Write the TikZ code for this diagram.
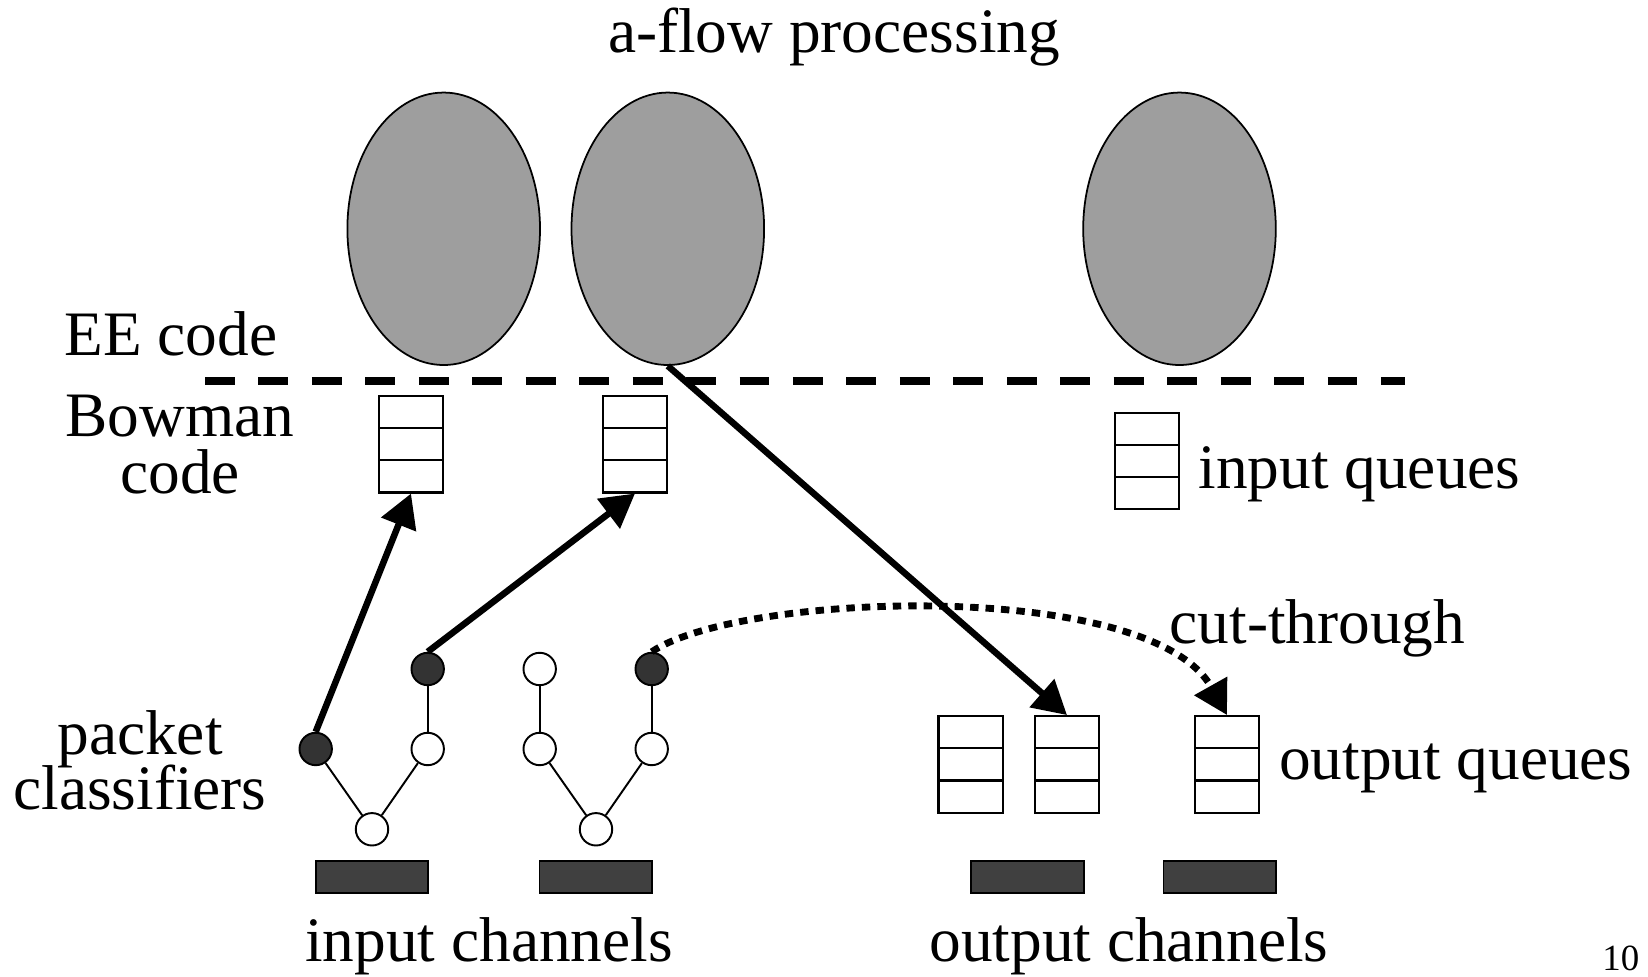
\documentclass[tikz,border=0pt]{standalone}
\usepackage{fontspec}
\setmainfont{Liberation Serif}
\usetikzlibrary{shapes.geometric,arrows.meta}

\definecolor{procgray}{RGB}{158,158,158}
\definecolor{darkdot}{RGB}{51,51,51}
\definecolor{chanfill}{RGB}{64,64,64}

\begin{document}
\begin{tikzpicture}[x=0.01cm,y=-0.01cm,
  lbl/.style={font=\fontsize{18pt}{16pt}\selectfont, inner sep=0pt},
  pagenum/.style={font=\fontsize{10.5pt}{12pt}\selectfont, inner sep=0pt},
  proc/.style={ellipse, draw, line width=0.5pt, fill=procgray,
    minimum width=1.925cm, minimum height=2.723cm, inner sep=0pt},
  queue/.style={draw, line width=0.6pt, fill=white,
    minimum width=0.646cm, minimum height=0.965cm, inner sep=0pt,
    path picture={
      \draw[line width=0.6pt]
        ([yshift=-0.3217cm]path picture bounding box.north west) --
        ([yshift=-0.3217cm]path picture bounding box.north east)
        ([yshift=0.3217cm]path picture bounding box.south west) --
        ([yshift=0.3217cm]path picture bounding box.south east);
    }},
  cls/.style={circle, draw, line width=0.55pt, fill=white,
    minimum size=0.324cm, inner sep=0pt},
  hit/.style={cls, fill=darkdot},
  chan/.style={draw, line width=0.5pt, fill=chanfill,
    minimum width=1.126cm, minimum height=0.326cm, inner sep=0pt},
  link/.style={line width=0.55pt},
  flow/.style={line width=1.85pt, -{Triangle[length=9.5pt,width=10.3pt]}},
  sepline/.style={line width=2.1pt, dash pattern=on 8.5pt off 6.7pt},
  cutflow/.style={flow, line width=1.95pt, dash pattern=on 2.4pt off 2pt},
]
\useasboundingbox (0,0) rectangle (1648,977);

% active-network execution environments
\node[proc] (e1) at (443.7,228.8) {};
\node[proc] (e2) at (667.8,228.8) {};
\node[proc] (e3) at (1179.5,228.8) {};

% boundary between EE code and Bowman code
\coordinate (sepL) at (205,381);
\coordinate (sepR) at (1405,381);
\draw[sepline] (sepL) -- (sepR);

% input queues
\node[queue] (iq1) at (411,444.2) {};
\node[queue] (iq2) at (635,444.2) {};
\node[queue] (iq3) at (1147,461) {};

% output queues
\node[queue] (oq1) at (970.8,764.4) {};
\node[queue] (oq2) at (1067,764.4) {};
\node[queue] (oq3) at (1227,764.4) {};

% classifier trees
\node[hit] (c1) at (315.7,749) {};
\node[hit] (c2) at (427.7,669) {};
\node[cls] (c3) at (427.7,749) {};
\node[cls] (c4) at (372,829.3) {};
\node[cls] (c5) at (539.7,669) {};
\node[cls] (c6) at (539.7,749) {};
\node[cls] (c7) at (596,829.3) {};
\node[hit] (c8) at (651.7,669) {};
\node[cls] (c9) at (651.7,749) {};

\draw[link] (c1) -- (c4);
\draw[link] (c3) -- (c4);
\draw[link] (c2) -- (c3);
\draw[link] (c5) -- (c6);
\draw[link] (c6) -- (c7);
\draw[link] (c7) -- (c9);
\draw[link] (c8) -- (c9);

% channels
\node[chan] (ic1) at (372,877) {};
\node[chan] (ic2) at (595.8,877) {};
\node[chan] (oc1) at (1027.5,877) {};
\node[chan] (oc2) at (1219.7,877) {};

% packet flows
\draw[cutflow] (c8.north) .. controls (740,592) and (1150,578) .. (oq3.north);
\draw[flow] (c1.north) -- (iq1.south);
\draw[flow] (c2.north) -- (iq2.south);
\draw[flow] (e2.south) -- (oq2.north);

% labels
\node[lbl, anchor=base] (ttl) at (834,53) {a-flow processing};
\node[lbl, anchor=base] (ee) at (171,356) {EE code};
\node[lbl, anchor=base] (bw1) at (180,436.7) {Bowman};
\node[lbl, anchor=base] (bw2) at (180,493.3) {code};
\node[lbl, anchor=base] (pc1) at (140,755) {packet};
\node[lbl, anchor=base] (pc2) at (140,810) {classifiers};
\node[lbl, anchor=base west] (iql) at (1198,488.5) {input queues};
\node[lbl, anchor=base west] (ctl) at (1169,643.3) {cut-through};
\node[lbl, anchor=base west] (oql) at (1278.5,780) {output queues};
\node[lbl, anchor=base] (icl) at (489,962) {input channels};
\node[lbl, anchor=base] (ocl) at (1129,962) {output channels};
\node[pagenum, anchor=base east] (pg) at (1640,971) {10};
\end{tikzpicture}
\end{document}
